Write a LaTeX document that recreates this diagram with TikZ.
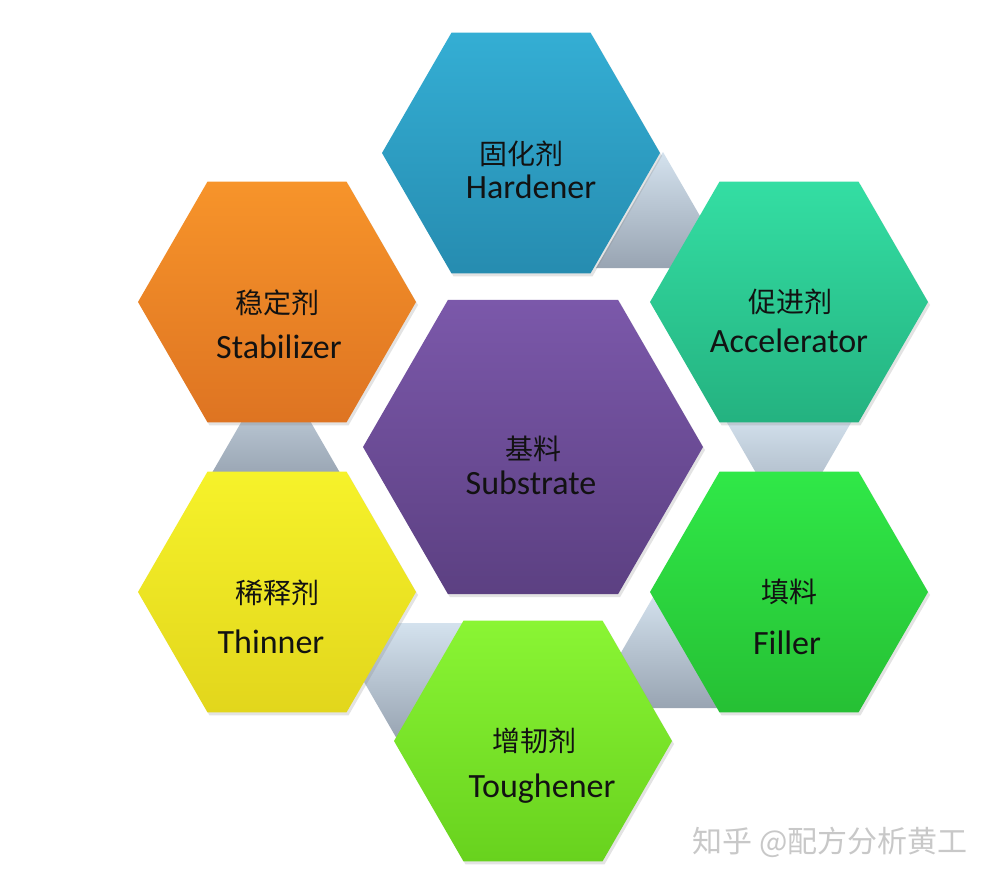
\documentclass[tikz,border=0pt]{standalone}
\usepackage{fontspec}
\setmainfont{Carlito}
\newfontfamily\cjk{Noto Sans CJK SC}
\usetikzlibrary{shapes.geometric,shadows}

\definecolor{hardT}{RGB}{52,174,212}
\definecolor{hardB}{RGB}{38,140,176}
\definecolor{accT}{RGB}{52,222,163}
\definecolor{accB}{RGB}{36,178,128}
\definecolor{stabT}{RGB}{247,148,42}
\definecolor{stabB}{RGB}{222,116,34}
\definecolor{subT}{RGB}{123,88,170}
\definecolor{subB}{RGB}{92,64,130}
\definecolor{filT}{RGB}{48,232,72}
\definecolor{filB}{RGB}{38,192,52}
\definecolor{thinT}{RGB}{246,242,42}
\definecolor{thinB}{RGB}{226,214,28}
\definecolor{touT}{RGB}{138,245,52}
\definecolor{touB}{RGB}{104,210,30}
\definecolor{triT}{RGB}{212,226,238}
\definecolor{triB}{RGB}{152,164,178}
\definecolor{txt}{RGB}{18,18,18}
\definecolor{wmgray}{RGB}{200,200,200}

\begin{document}
\begin{tikzpicture}[x=1pt,y=-1pt,
  hexbox/.style={regular polygon, regular polygon sides=6, inner sep=0pt, outer sep=0pt,
    minimum size=#1, draw=none,
    drop shadow={opacity=0.22, shadow xshift=2pt, shadow yshift=-3pt}},
  tri/.style={top color=triT, bottom color=triB, draw=none},
  zh/.style={font=\cjk\fontsize{28}{32}\selectfont, text=txt, inner sep=0pt},
  en/.style={font=\fontsize{34}{40}\selectfont, text=txt, inner sep=0pt, anchor=base},
  wm/.style={font=\cjk\fontsize{30}{34}\selectfont, text=wmgray, inner sep=0pt}]
\useasboundingbox (0,0) rectangle (992,881);
\fill[white] (0,0) rectangle (992,881);

% connector triangles (behind the hexagons)
\path[tri] (663,152) -- (730,268) -- (596,268) -- cycle;  % hardener - accelerator
\path[tri] (789,530) -- (856,414) -- (722,414) -- cycle;  % accelerator - filler
\path[tri] (656,592) -- (723,708) -- (589,708) -- cycle;  % filler - toughener
\path[tri] (397,739) -- (464,623) -- (330,623) -- cycle;  % toughener - thinner
\path[tri] (276,362) -- (343,478) -- (209,478) -- cycle;  % thinner - stabilizer

% hexagons
\node[hexbox=278pt, top color=hardT, bottom color=hardB] (hard) at (521,153) {};
\node[hexbox=278pt, top color=accT, bottom color=accB] (acc) at (789,302) {};
\node[hexbox=278pt, top color=stabT, bottom color=stabB] (stab) at (277,302) {};
\node[hexbox=340pt, top color=subT, bottom color=subB] (sub) at (533,447) {};
\node[hexbox=278pt, top color=filT, bottom color=filB] (fil) at (789,592) {};
\node[hexbox=278pt, top color=thinT, bottom color=thinB] (thin) at (277,592) {};
\node[hexbox=278pt, top color=touT, bottom color=touB] (tou) at (533,741) {};

% labels
\node[zh] (hardzh) at (521,154) {固化剂};
\node[en] (harden) at (531,198) {Hardener};
\node[zh] (acczh) at (790,302) {促进剂};
\node[en] (accen) at (789,352) {Accelerator};
\node[zh] (stabzh) at (277,303) {稳定剂};
\node[en] (staben) at (279,358) {Stabilizer};
\node[zh] (subzh) at (533,449) {基料};
\node[en] (suben) at (531,494) {Substrate};
\node[zh] (filzh) at (789,592) {填料};
\node[en] (filen) at (787,654) {Filler};
\node[zh] (thinzh) at (277,593) {稀释剂};
\node[en] (thinen) at (271,653) {Thinner};
\node[zh] (touzh) at (534,741) {增韧剂};
\node[en] (touen) at (542,797) {Toughener};

% watermark
\node[wm] (wm) at (830,842) {知乎 @配方分析黄工};
\end{tikzpicture}
\end{document}
